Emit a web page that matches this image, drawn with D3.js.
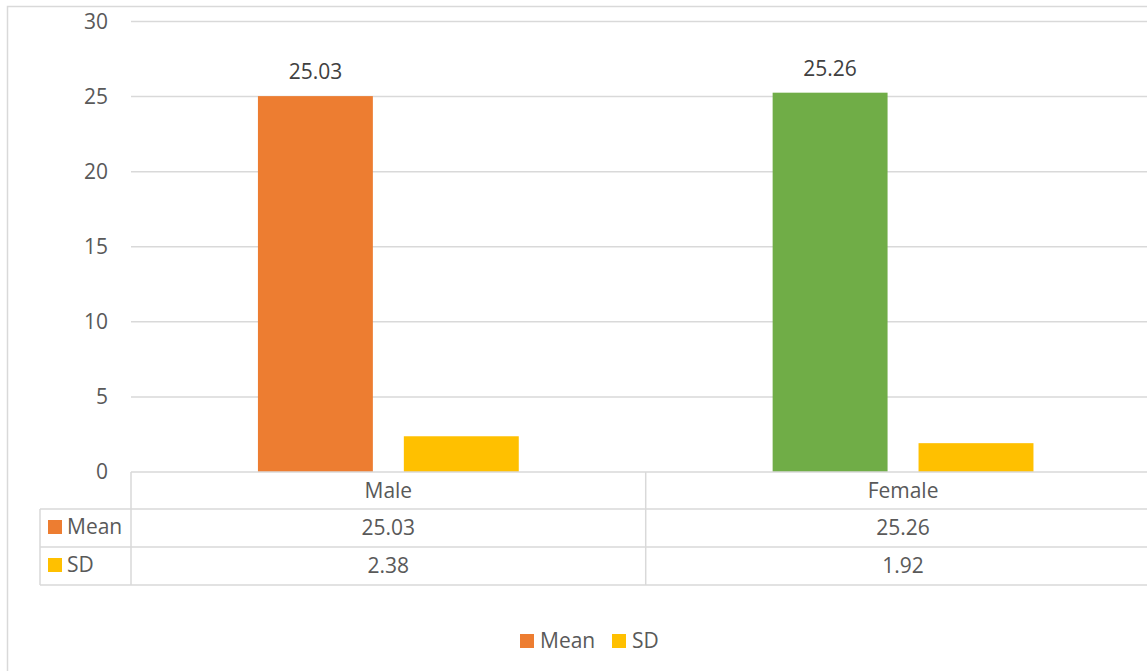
<!DOCTYPE html>
<html>
<head>
<meta charset="utf-8">
<script src="https://cdn.jsdelivr.net/npm/d3@7"></script>
<style>
  body { margin: 0; background: #fff; }
  svg { display: block; font-family: "Open Sans", "Noto Sans", sans-serif; }
</style>
</head>
<body>
<svg width="1147" height="671"></svg>
<script>
// data
const categories = ["Male", "Female"];
const seriesNames = ["Mean", "SD"];
const meanValues = [25.03, 25.26];
const sdValues = [2.38, 1.92];
const yTicks = [0, 5, 10, 15, 20, 25, 30];

const meanColors = ["#ED7D31", "#70AD47"]; // one colour per point
const sdColor = "#FFC000";
const legendColors = ["#ED7D31", "#FFC000"];

const svg = d3.select("svg");
const gridColor = "#d9d9d9";
const textColor = "#595959";

// outer chart border (right/bottom are cut off)
svg.append("rect")
    .attr("x", 7.5).attr("y", 6.5)
    .attr("width", 1200).attr("height", 700)
    .attr("fill", "none")
    .attr("stroke", gridColor).attr("stroke-width", 1.5);

// plot area
const left = 131;
const catWidth = 514.7;
const x0 = d3.scaleBand()
    .domain(categories)
    .range([left, left + catWidth * categories.length]);
const x1 = d3.scaleBand()
    .domain(seriesNames)
    .range([0, x0.bandwidth()])
    .paddingInner(0.2123)
    .paddingOuter(0.87);
const y = d3.scaleLinear().domain([0, 30]).range([472, 21.5]);

// gridlines
svg.append("g").selectAll("line")
    .data(yTicks.filter(d => d > 0))
    .join("line")
    .attr("x1", left).attr("x2", x0.range()[1])
    .attr("y1", d => y(d)).attr("y2", d => y(d))
    .attr("stroke", gridColor).attr("stroke-width", 1.5);

// y axis labels
svg.append("g").selectAll("text")
    .data(yTicks)
    .join("text")
    .attr("x", 108)
    .attr("y", d => y(d) + 7)
    .attr("text-anchor", "end")
    .attr("fill", textColor)
    .attr("font-size", 21)
    .text(d => d);

// bars
const rows = categories.map((c, i) => ({
    cat: c,
    vals: [
        { s: "Mean", v: meanValues[i], color: meanColors[i] },
        { s: "SD", v: sdValues[i], color: sdColor }
    ]
}));

const groups = svg.append("g").selectAll("g")
    .data(rows)
    .join("g")
    .attr("transform", d => `translate(${x0(d.cat)},0)`);

groups.selectAll("rect")
    .data(d => d.vals)
    .join("rect")
    .attr("x", d => x1(d.s))
    .attr("y", d => y(d.v))
    .attr("width", x1.bandwidth())
    .attr("height", d => y(0) - y(d.v))
    .attr("fill", d => d.color);

// data labels on Mean bars
groups.selectAll("text.lbl")
    .data(d => d.vals.filter(v => v.s === "Mean"))
    .join("text")
    .attr("class", "lbl")
    .attr("x", d => x1(d.s) + x1.bandwidth() / 2)
    .attr("y", d => y(d.v) - 17)
    .attr("text-anchor", "middle")
    .attr("fill", "#404040")
    .attr("font-size", 21)
    .text(d => d.v.toFixed(2));

// data table
const tableLeft = 40;
const rowY = [472, 509, 547, 585];
const right = x0.range()[1];
const table = svg.append("g")
    .attr("stroke", gridColor).attr("stroke-width", 1.5);

table.append("line").attr("x1", left).attr("x2", right).attr("y1", rowY[0]).attr("y2", rowY[0]);
rowY.slice(1).forEach(yy => {
    table.append("line").attr("x1", tableLeft).attr("x2", right).attr("y1", yy).attr("y2", yy);
});
table.append("line").attr("x1", tableLeft).attr("x2", tableLeft).attr("y1", rowY[1]).attr("y2", rowY[3]);
categories.forEach(c => {
    table.append("line").attr("x1", x0(c)).attr("x2", x0(c)).attr("y1", rowY[0]).attr("y2", rowY[3]);
});

// category labels
svg.append("g").selectAll("text")
    .data(categories)
    .join("text")
    .attr("x", d => x0(d) + x0.bandwidth() / 2)
    .attr("y", 498)
    .attr("text-anchor", "middle")
    .attr("fill", textColor)
    .attr("font-size", 21)
    .text(d => d);

// table value rows
const tableRows = [
    { name: "Mean", vals: meanValues, color: legendColors[0] },
    { name: "SD", vals: sdValues, color: legendColors[1] }
];
tableRows.forEach((r, ri) => {
    const base = rowY[ri + 1];
    svg.append("rect")
        .attr("x", 48).attr("y", base + 11)
        .attr("width", 14).attr("height", 14)
        .attr("fill", r.color);
    svg.append("text")
        .attr("x", 67).attr("y", base + 25)
        .attr("fill", textColor).attr("font-size", 21)
        .text(r.name);
    svg.append("g").selectAll("text")
        .data(r.vals)
        .join("text")
        .attr("x", (d, i) => x0(categories[i]) + x0.bandwidth() / 2)
        .attr("y", base + 26)
        .attr("text-anchor", "middle")
        .attr("fill", textColor)
        .attr("font-size", 21)
        .text(d => d.toFixed(2));
});

// legend
const legendX = [520, 612];
const legend = svg.append("g").selectAll("g")
    .data(seriesNames)
    .join("g")
    .attr("transform", (d, i) => `translate(${legendX[i]},634)`);
legend.append("rect")
    .attr("width", 14).attr("height", 14)
    .attr("fill", (d, i) => legendColors[i]);
legend.append("text")
    .attr("x", 20).attr("y", 14)
    .attr("fill", textColor).attr("font-size", 21)
    .text(d => d);
</script>
</body>
</html>
